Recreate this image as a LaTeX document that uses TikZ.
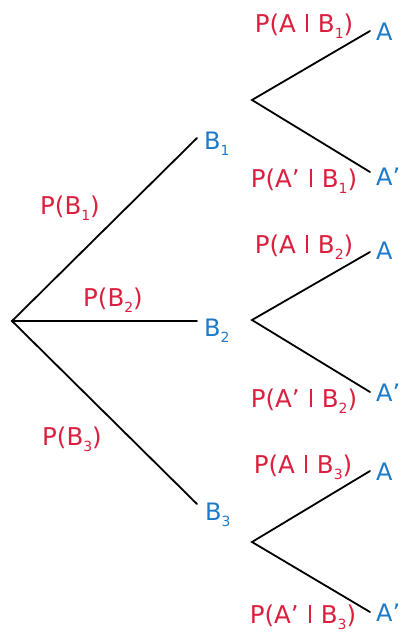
\documentclass[tikz,border=0pt]{standalone}
\usepackage{fontspec}
\setmainfont{DejaVu Sans}
\definecolor{pred}{RGB}{218,32,62}
\definecolor{bblue}{RGB}{28,122,200}
\newcommand{\lsub}[1]{\raisebox{-0.5ex}{\fontsize{14}{14}\selectfont #1}}
\newcommand{\gbar}{\hspace{0.42em}\rule{1.5pt}{0.72em}\hspace{0.42em}}
\begin{document}
\begin{tikzpicture}[x=1pt,y=-1pt,
  prob/.style={text=pred, font=\fontsize{24.5}{24.5}\selectfont, inner sep=0pt, anchor=base},
  evt/.style={text=bblue, font=\fontsize{24}{24}\selectfont, inner sep=0pt, anchor=base west},
  br/.style={line width=1.8pt, black, line cap=round, line join=miter}]
\useasboundingbox (0,0) rectangle (402,635);
% first level
\coordinate (root) at (12,321);
\coordinate (e1) at (197,138);
\coordinate (e2) at (197,321);
\coordinate (e3) at (197,504);
\draw[br] (e1) -- (root) -- (e3);
\draw[br] (root) -- (e2);
\node[evt] (B1) at (204,149) {B\lsub{1}};
\node[evt] (B2) at (204,336) {B\lsub{2}};
\node[evt] (B3) at (205,520) {B\lsub{3}};
\node[prob] (pB1) at (70,214) {P(B\lsub{1})};
\node[prob] (pB2) at (113,306) {P(B\lsub{2})};
\node[prob] (pB3) at (72,445) {P(B\lsub{3})};
% second level
\coordinate (v1) at (252,100);
\coordinate (v2) at (252,320);
\coordinate (v3) at (252,542);
\coordinate (a1) at (370,31);
\coordinate (n1) at (370,172);
\coordinate (a2) at (370,252);
\coordinate (n2) at (370,392);
\coordinate (a3) at (370,471);
\coordinate (n3) at (370,612);
\draw[br] (a1) -- (v1) -- (n1);
\draw[br] (a2) -- (v2) -- (n2);
\draw[br] (a3) -- (v3) -- (n3);
\node[evt] (A1) at (376,40) {A};
\node[evt] (N1) at (376,185) {A’};
\node[evt] (A2) at (376,259) {A};
\node[evt] (N2) at (376,401) {A’};
\node[evt] (A3) at (376,480) {A};
\node[evt] (N3) at (376,621) {A’};
\node[prob] (pA1) at (304,32) {P(A\gbar B\lsub{1})};
\node[prob] (pN1) at (304,187) {P(A’\gbar B\lsub{1})};
\node[prob] (pA2) at (304,253) {P(A\gbar B\lsub{2})};
\node[prob] (pN2) at (304,407) {P(A’\gbar B\lsub{2})};
\node[prob] (pA3) at (303,473) {P(A\gbar B\lsub{3})};
\node[prob] (pN3) at (303,623) {P(A’\gbar B\lsub{3})};
\end{tikzpicture}
\end{document}
